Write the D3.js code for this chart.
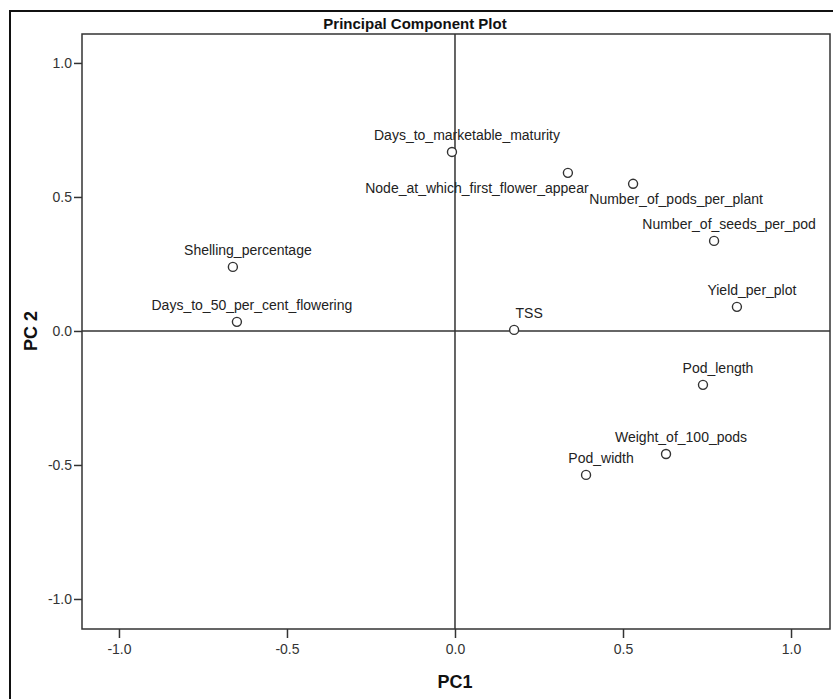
<!DOCTYPE html>
<html>
<head>
<meta charset="utf-8">
<script src="https://cdn.jsdelivr.net/npm/d3@7"></script>
<style>
  body { margin: 0; background: #fff; }
  svg { display: block; }
  .tick text { font-family: "Liberation Sans", Arial, sans-serif; font-size: 14px; fill: #333; }
  .tick line { stroke: #333; stroke-width: 1.5; }
  .lbl { font-family: "Liberation Sans", Arial, sans-serif; font-size: 14px; fill: #222; }
</style>
</head>
<body>
<div id="chart"></div>
<script>
// variables and their loadings on the first two components
var variables = [
  "Days_to_marketable_maturity",
  "Node_at_which_first_flower_appear",
  "Number_of_pods_per_plant",
  "Number_of_seeds_per_pod",
  "Yield_per_plot",
  "Shelling_percentage",
  "Days_to_50_per_cent_flowering",
  "TSS",
  "Pod_length",
  "Weight_of_100_pods",
  "Pod_width"
];
var pc1 = [-0.009, 0.336, 0.530, 0.771, 0.839, -0.661, -0.649, 0.176, 0.738, 0.628, 0.390];
var pc2 = [0.668, 0.590, 0.549, 0.336, 0.090, 0.239, 0.034, 0.004, -0.201, -0.459, -0.537];
var tickValues = [-1.0, -0.5, 0.0, 0.5, 1.0];

// set the dimensions of the page
var width = 833, height = 699;
var plot = {left: 82, top: 34, right: 830, bottom: 629};

var svg = d3.select("#chart").append("svg")
    .attr("width", width)
    .attr("height", height);

// outer frame
svg.append("rect")
    .attr("x", 10).attr("y", 11)
    .attr("width", 840).attr("height", 700)
    .attr("fill", "none")
    .attr("stroke", "#111")
    .attr("stroke-width", 2);

// title
svg.append("text")
    .attr("x", 415).attr("y", 29)
    .attr("text-anchor", "middle")
    .style("font-family", "'Liberation Sans', Arial, sans-serif")
    .style("font-weight", "bold")
    .style("font-size", "15px")
    .style("fill", "#111")
    .text("Principal Component Plot");

// set the ranges
var x = d3.scaleLinear().domain([-1.110, 1.116]).range([plot.left, plot.right]);
var y = d3.scaleLinear().domain([-1.112, 1.108]).range([plot.bottom, plot.top]);

// axes (plain hyphen for negatives, like the original)
var fmt = d3.formatLocale({decimal: ".", thousands: ",", grouping: [3], currency: ["", ""], minus: "-"}).format(".1f");
svg.append("g")
    .attr("transform", "translate(" + plot.left + ",0)")
    .call(d3.axisLeft(y).tickValues(tickValues).tickFormat(fmt).tickSize(8).tickSizeOuter(0).tickPadding(2))
    .call(function(g) { g.select(".domain").remove(); });

svg.append("g")
    .attr("transform", "translate(0," + plot.bottom + ")")
    .call(d3.axisBottom(x).tickValues(tickValues).tickFormat(fmt).tickSize(9).tickSizeOuter(0).tickPadding(6))
    .call(function(g) { g.select(".domain").remove(); });

// zero reference lines
svg.append("line")
    .attr("x1", x(0)).attr("x2", x(0))
    .attr("y1", plot.top).attr("y2", plot.bottom)
    .attr("stroke", "#333").attr("stroke-width", 1.5);
svg.append("line")
    .attr("x1", plot.left).attr("x2", plot.right)
    .attr("y1", y(0)).attr("y2", y(0))
    .attr("stroke", "#333").attr("stroke-width", 1.5);

// plot border
svg.append("rect")
    .attr("x", plot.left).attr("y", plot.top)
    .attr("width", plot.right - plot.left)
    .attr("height", plot.bottom - plot.top)
    .attr("fill", "none")
    .attr("stroke", "#333")
    .attr("stroke-width", 1.5);

// axis titles
svg.append("text")
    .attr("x", x(0)).attr("y", 688)
    .attr("text-anchor", "middle")
    .style("font-family", "'Liberation Sans', Arial, sans-serif")
    .style("font-weight", "bold")
    .style("font-size", "18px")
    .style("fill", "#111")
    .text("PC1");

svg.append("text")
    .attr("transform", "translate(37," + y(0) + ") rotate(-90)")
    .attr("text-anchor", "middle")
    .style("font-family", "'Liberation Sans', Arial, sans-serif")
    .style("font-weight", "bold")
    .style("font-size", "18px")
    .style("fill", "#111")
    .text("PC 2");

// label placement: by default centred a little right of and above the point
var labelShift = {
  "Node_at_which_first_flower_appear": [-91, 20],
  "Number_of_pods_per_plant": [43, 20]
};

var points = variables.map(function(v, i) {
  return {name: v, pc1: pc1[i], pc2: pc2[i]};
});

var g = svg.append("g").selectAll("g")
    .data(points)
  .enter().append("g")
    .attr("transform", function(d) { return "translate(" + x(d.pc1) + "," + y(d.pc2) + ")"; });

g.append("circle")
    .attr("r", 4.5)
    .attr("fill", "#fff")
    .attr("stroke", "#333")
    .attr("stroke-width", 1.4);

g.append("text")
    .attr("class", "lbl")
    .attr("text-anchor", "middle")
    .attr("x", function(d) { return labelShift[d.name] ? labelShift[d.name][0] : 15; })
    .attr("y", function(d) { return labelShift[d.name] ? labelShift[d.name][1] : -12; })
    .text(function(d) { return d.name; });
</script>
</body>
</html>
